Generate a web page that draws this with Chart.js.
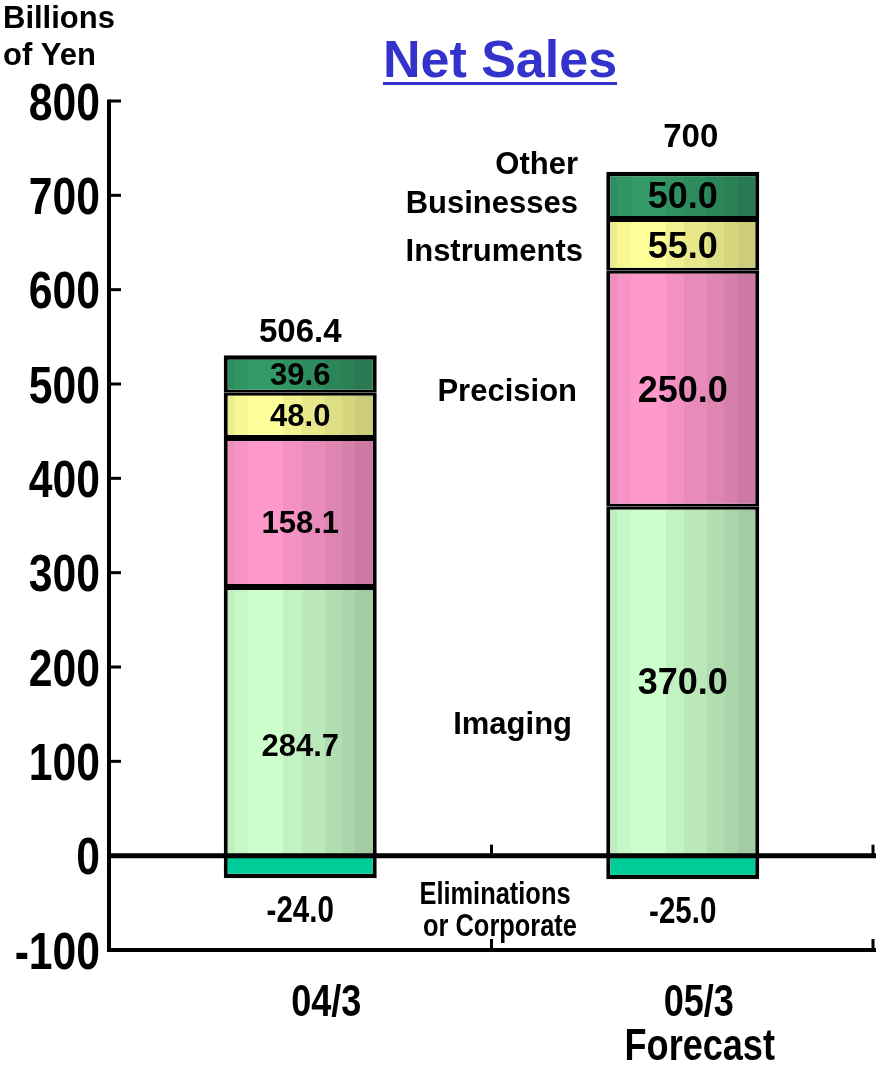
<!DOCTYPE html>
<html>
<head>
<meta charset="utf-8">
<script src="https://cdn.jsdelivr.net/npm/chart.js@4/dist/chart.umd.min.js"></script>
<style>
  html, body { margin: 0; padding: 0; background: #fff; }
  canvas { display: block; }
</style>
</head>
<body>
<canvas id="c" width="876" height="1065"></canvas>
<script>
// Net sales by segment, billions of yen
const categories = ['04/3', ['05/3', 'Forecast']];
const imaging = [284.7, 370.0];
const precision = [158.1, 250.0];
const instruments = [48.0, 55.0];
const otherBusinesses = [39.6, 50.0];
const eliminations = [-24.0, -25.0];
const yMin = -100;
const yMax = 800;
const yStep = 100;

const FONT = '"Liberation Sans", Arial, Helvetica, sans-serif';

// vertical shading bands across each bar: [from, to, brightness]
const bands = [[0, .07, .93], [.07, .16, .97], [.16, .39, 1], [.39, .51, .95],
               [.51, .66, .91], [.66, .77, .87], [.77, .86, .84], [.86, 1, .80]];

function shade(hex, f) {
  const n = parseInt(hex.slice(1), 16);
  const r = Math.round(((n >> 16) & 255) * f);
  const g = Math.round(((n >> 8) & 255) * f);
  const b = Math.round((n & 255) * f);
  return `rgb(${r},${g},${b})`;
}

function stripeFill(hex) {
  return (c) => {
    const chart = c.chart;
    const xs = chart.scales.x;
    if (c.type !== 'data' || !xs || !chart.chartArea) return hex;
    const cx = xs.getPixelForValue(c.dataIndex);
    const catW = Math.abs(xs.getPixelForValue(1) - xs.getPixelForValue(0));
    const half = catW * 0.4 / 2;
    const g = chart.ctx.createLinearGradient(cx - half, 0, cx + half, 0);
    bands.forEach(([a, b, f]) => {
      const col = shade(hex, f);
      g.addColorStop(a, col);
      g.addColorStop(b, col);
    });
    return g;
  };
}

function label(ctx, text, x, cy, size, opt = {}) {
  const { align = 'center', narrow = false, color = '#000' } = opt;
  ctx.save();
  ctx.font = `bold ${size}px ${FONT}`;
  ctx.fillStyle = color;
  ctx.textAlign = align;
  ctx.textBaseline = 'alphabetic';
  ctx.translate(x, cy + size * 0.358);
  ctx.scale(narrow ? 0.82 : 1, 1);
  ctx.fillText(text, 0, 0);
  ctx.restore();
}

function fmtTotal(v) {
  const r = Math.round(v * 10) / 10;
  return Number.isInteger(r) ? String(r) : r.toFixed(1);
}

const positiveSeries = [imaging, precision, instruments, otherBusinesses];

const decor = {
  id: 'decor',
  afterDatasetsDraw(chart) {
    const { ctx, chartArea: a } = chart;
    const xs = chart.scales.x, ys = chart.scales.y;
    const y0 = ys.getPixelForValue(0);
    const yB = ys.getPixelForValue(yMin);
    const catW = xs.getPixelForValue(1) - xs.getPixelForValue(0);
    ctx.save();
    ctx.strokeStyle = '#000';
    ctx.lineCap = 'butt';

    // value axis
    ctx.lineWidth = 4;
    ctx.beginPath();
    ctx.moveTo(a.left, ys.getPixelForValue(yMax) - 1.5);
    ctx.lineTo(a.left, yB + 2);
    ctx.stroke();

    // inward tick marks
    ctx.lineWidth = 3;
    ys.ticks.forEach(t => {
      if (t.value <= 0) return;
      const y = ys.getPixelForValue(t.value);
      ctx.beginPath();
      ctx.moveTo(a.left, y);
      ctx.lineTo(a.left + 12, y);
      ctx.stroke();
    });

    // zero line and bottom line
    [[y0, 5], [yB, 4]].forEach(([y, w]) => {
      ctx.lineWidth = w;
      ctx.beginPath();
      ctx.moveTo(a.left - 2, y);
      ctx.lineTo(a.right + 2, y);
      ctx.stroke();
    });

    // category separators on both lines
    ctx.lineWidth = 3;
    categories.forEach((_, i) => {
      let x = xs.getPixelForValue(i) + catW / 2;
      if (i === categories.length - 1) x = a.right - 1;
      [y0, yB].forEach(y => {
        ctx.beginPath();
        ctx.moveTo(x, y);
        ctx.lineTo(x, y - 11);
        ctx.stroke();
      });
    });
    ctx.restore();
  },
  afterDraw(chart) {
    const { ctx, chartArea: a } = chart;
    const xs = chart.scales.x, ys = chart.scales.y;

    // title
    const title = 'Net Sales';
    ctx.save();
    ctx.font = `bold 52px ${FONT}`;
    const tw = ctx.measureText(title).width;
    ctx.restore();
    label(ctx, title, 500, 58, 52, { color: '#3333CC' });
    ctx.save();
    ctx.fillStyle = '#3333CC';
    ctx.fillRect(500 - tw / 2, 82, tw, 3);
    ctx.restore();

    // unit
    label(ctx, 'Billions', 3, 17, 31, { align: 'left' });
    label(ctx, 'of Yen', 3, 54, 31, { align: 'left' });

    // value axis labels
    ys.ticks.forEach(t => {
      label(ctx, String(t.value), a.left - 9, ys.getPixelForValue(t.value), 52,
            { align: 'right', narrow: true });
    });

    // category labels
    const catNudge = [26, 16];
    categories.forEach((c, i) => {
      const lines = Array.isArray(c) ? c : [c];
      const x = xs.getPixelForValue(i) + catNudge[i];
      lines.forEach((s, k) => {
        label(ctx, s, x + (k > 0 ? 1 : 0), 1000 + k * 44, 44, { narrow: true });
      });
    });

    // segment values (lower labels of the first bar sit a little below centre)
    const valueSize = [31, 36];
    const valueDrop = [[24, 9, 0, 0], [0, 0, 0, 0]];
    categories.forEach((_, i) => {
      const x = xs.getPixelForValue(i);
      let base = 0;
      positiveSeries.forEach((s, k) => {
        const mid = ys.getPixelForValue(base + s[i] / 2) + valueDrop[i][k];
        label(ctx, s[i].toFixed(1), x, mid, valueSize[i]);
        base += s[i];
      });
      // total above bar
      const total = positiveSeries.reduce((m, s) => m + s[i], 0) + eliminations[i];
      const top = ys.getPixelForValue(base);
      const gap = [25, 37];
      const tx = [0, 8];
      label(ctx, fmtTotal(total), x + tx[i], top - gap[i], 33);
      // eliminations below
      label(ctx, eliminations[i].toFixed(1), x, ys.getPixelForValue(eliminations[i]) + 31, 36,
            { narrow: true });
    });

    // segment names between the bars
    label(ctx, 'Other', 578, 163, 31, { align: 'right' });
    label(ctx, 'Businesses', 578, 202, 31, { align: 'right' });
    label(ctx, 'Instruments', 583, 250, 31, { align: 'right' });
    label(ctx, 'Precision', 577, 390, 31, { align: 'right' });
    label(ctx, 'Imaging', 572, 723, 31, { align: 'right' });
    label(ctx, 'Eliminations', 495, 893, 31, { narrow: true });
    label(ctx, 'or Corporate', 500, 925, 31, { narrow: true });
  }
};

const sideW = 4;
const datasets = [
  { label: 'Imaging', data: imaging, color: '#CCFFCC',
    borderWidth: { left: sideW, right: sideW, top: 3, bottom: 0 } },
  { label: 'Precision', data: precision, color: '#FF99CC',
    borderWidth: { left: sideW, right: sideW, top: 3, bottom: 3 } },
  { label: 'Instruments', data: instruments, color: '#FFFF99',
    borderWidth: { left: sideW, right: sideW, top: 3, bottom: 3 } },
  { label: 'Other Businesses', data: otherBusinesses, color: '#339966',
    borderWidth: { left: sideW, right: sideW, top: 4.5, bottom: 3 } },
  { label: 'Eliminations or Corporate', data: eliminations, color: '#00CC99', flat: true,
    borderWidth: { left: sideW, right: sideW, top: 0, bottom: 4.5 } }
].map(d => ({
  label: d.label,
  data: d.data,
  backgroundColor: d.flat ? d.color : stripeFill(d.color),
  borderColor: '#000',
  borderWidth: d.borderWidth,
  borderSkipped: false,
  barPercentage: 0.4,
  categoryPercentage: 1.0
}));

new Chart(document.getElementById('c'), {
  type: 'bar',
  data: { labels: categories, datasets },
  options: {
    responsive: false,
    animation: false,
    devicePixelRatio: 1,
    layout: { padding: { left: 109, right: 2, top: 101, bottom: 115 } },
    plugins: { legend: { display: false }, tooltip: { enabled: false }, title: { display: false } },
    scales: {
      x: { display: false, stacked: true, offset: true },
      y: { display: false, stacked: true, min: yMin, max: yMax, ticks: { stepSize: yStep } }
    }
  },
  plugins: [decor]
});
</script>
</body>
</html>
